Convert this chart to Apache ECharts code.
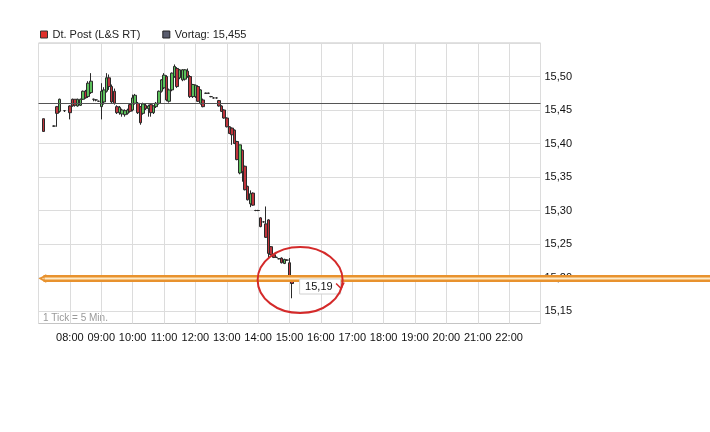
<!DOCTYPE html>
<html><head><meta charset="utf-8">
<script src="https://cdn.jsdelivr.net/npm/echarts@6/dist/echarts.min.js"></script>
<style>html,body{margin:0;padding:0;background:#fff}#c{width:710px;height:432px}</style>
</head><body><div id="c"></div>
<script>
// ---- data (5-minute candles) ----
const times = ['07:10','07:30','07:35','07:40','07:50','08:00','08:05','08:10','08:15','08:20','08:25','08:30','08:35','08:40','08:45','08:50','08:55',
'09:00','09:05','09:10','09:15','09:20','09:25','09:30','09:35','09:40','09:45','09:50','09:55',
'10:00','10:05','10:10','10:15','10:20','10:25','10:30','10:35','10:40','10:45','10:50','10:55',
'11:00','11:05','11:10','11:15','11:20','11:25','11:30','11:35','11:40','11:45','11:50','11:55',
'12:00','12:05','12:10','12:15','12:20','12:25','12:30','12:35','12:40','12:45','12:50','12:55',
'13:00','13:05','13:10','13:15','13:20','13:25','13:30','13:35','13:40','13:45','13:50','13:55',
'14:00','14:05','14:10','14:15','14:20','14:25','14:30','14:35','14:40','14:45','14:50','14:55','15:00','15:05'];
const opens = [15.437,15.426,15.455,15.448,15.449,15.456,15.466,15.466,15.456,15.457,15.466,15.478,15.470,15.476,15.466,15.465,15.463,
15.455,15.462,15.478,15.498,15.485,15.478,15.455,15.446,15.444,15.443,15.445,15.458,
15.450,15.460,15.460,15.455,15.445,15.457,15.452,15.458,15.446,15.455,15.460,15.478,
15.483,15.500,15.463,15.480,15.500,15.512,15.498,15.495,15.496,15.508,15.500,15.470,
15.470,15.485,15.460,15.465,15.475,15.475,15.470,15.468,15.468,15.464,15.456,15.450,
15.438,15.425,15.423,15.420,15.403,15.356,15.390,15.366,15.336,15.310,15.326,15.300,
15.300,15.289,15.283,15.280,15.286,15.246,15.234,15.230,15.228,15.229,15.221,15.226,15.222,15.196];
const highs = [15.437,15.427,15.456,15.467,15.450,15.457,15.467,15.466,15.467,15.467,15.479,15.480,15.493,15.505,15.467,15.466,15.464,
15.490,15.484,15.505,15.503,15.488,15.482,15.457,15.456,15.452,15.451,15.452,15.460,
15.473,15.474,15.462,15.456,15.461,15.460,15.458,15.460,15.457,15.462,15.479,15.496,
15.505,15.502,15.482,15.506,15.518,15.514,15.511,15.511,15.511,15.512,15.502,15.489,
15.488,15.487,15.481,15.467,15.476,15.476,15.471,15.469,15.469,15.465,15.457,15.451,
15.439,15.426,15.424,15.421,15.404,15.398,15.391,15.367,15.337,15.330,15.327,15.301,
15.301,15.290,15.284,15.306,15.287,15.247,15.235,15.231,15.229,15.230,15.228,15.227,15.229,15.199];
const lows = [15.418,15.425,15.425,15.446,15.447,15.436,15.455,15.455,15.455,15.456,15.465,15.467,15.468,15.474,15.463,15.463,15.462,
15.436,15.458,15.476,15.480,15.460,15.458,15.444,15.443,15.440,15.440,15.443,15.446,
15.448,15.458,15.444,15.428,15.443,15.450,15.440,15.440,15.444,15.453,15.458,15.476,
15.481,15.463,15.461,15.478,15.498,15.483,15.496,15.493,15.494,15.498,15.468,15.468,
15.468,15.462,15.458,15.454,15.474,15.474,15.469,15.467,15.467,15.455,15.447,15.437,
15.424,15.414,15.398,15.399,15.375,15.354,15.343,15.330,15.315,15.305,15.307,15.299,
15.299,15.275,15.282,15.259,15.229,15.233,15.229,15.229,15.227,15.221,15.220,15.225,15.199,15.169];
const closes = [15.418,15.426,15.445,15.466,15.449,15.446,15.456,15.457,15.466,15.466,15.478,15.468,15.490,15.493,15.466,15.465,15.463,
15.478,15.480,15.498,15.485,15.462,15.460,15.446,15.454,15.450,15.449,15.450,15.448,
15.468,15.472,15.446,15.431,15.459,15.452,15.456,15.446,15.456,15.460,15.478,15.495,
15.502,15.465,15.480,15.505,15.515,15.485,15.510,15.510,15.510,15.500,15.470,15.488,
15.487,15.463,15.480,15.455,15.475,15.475,15.470,15.468,15.468,15.456,15.448,15.438,
15.425,15.415,15.413,15.400,15.376,15.398,15.358,15.331,15.316,15.325,15.308,15.300,
15.300,15.276,15.283,15.260,15.236,15.234,15.230,15.230,15.228,15.222,15.227,15.226,15.201,15.191];
const vortag = 15.455;
const markerLevel = 15.20;
const hourTicks = ['07:00','08:00','09:00','10:00','11:00','12:00','13:00','14:00','15:00','16:00','17:00','18:00','19:00','20:00','21:00','22:00','23:00'];
const priceTicks = ['15,15','15,20','15,25','15,30','15,35','15,40','15,45','15,50','15,55'];
const seriesName = 'Dt. Post (L&S RT)';
const vortagName = 'Vortag: 15,455';
const tickNote = '1 Tick = 5 Min.';

const toH = s => { const [h, m] = s.split(':').map(Number); return h + m / 60; };
const candles = times.map((t, i) => [toH(t), opens[i], closes[i], lows[i], highs[i]]);
const xMin = toH(hourTicks[0]), xMax = toH(hourTicks[hourTicks.length - 1]);
const last = candles[candles.length - 1];
const FONT = '"Liberation Sans", Arial, sans-serif';

const chart = echarts.init(document.getElementById('c'), null, {renderer: 'canvas'});
chart.setOption({
  animation: false,
  backgroundColor: '#fff',
  textStyle: {fontFamily: FONT},
  legend: {
    left: 35, top: 24, itemWidth: 7, itemHeight: 7, itemGap: 22,
    textStyle: {fontSize: 11, color: '#222', fontFamily: FONT},
    data: [
      {name: seriesName, icon: 'rect', itemStyle: {color: '#e0302c', borderColor: '#333', borderWidth: 1}},
      {name: vortagName, icon: 'rect', itemStyle: {color: '#5a5d6e', borderColor: '#222', borderWidth: 1}}
    ],
    selectedMode: false
  },
  grid: [
    {left: 38.5, right: 169.5, top: 43, bottom: 108.5, show: true, borderColor: '#c4c4c4', borderWidth: 1, outerBoundsMode: 'none'},
    {left: 38.5, right: 169.5, top: 43, bottom: 121, outerBoundsMode: 'none'}
  ],
  xAxis: [
    {gridIndex: 0, type: 'value', min: xMin, max: xMax, interval: 1,
     axisLine: {show: false}, axisTick: {show: false},
     splitLine: {show: true, lineStyle: {color: '#dcdcdc', width: 1}},
     axisLabel: {margin: 9, fontSize: 11, color: '#111', fontFamily: FONT, showMinLabel: false, showMaxLabel: false,
       formatter: v => hourTicks[Math.round(v - xMin)] || ''}},
    {gridIndex: 1, type: 'value', min: xMin, max: xMax, show: false}
  ],
  yAxis: [
    {gridIndex: 0, type: 'value', min: 15.10, max: 15.55, show: false},
    {gridIndex: 1, type: 'value', position: 'right', min: 15.15, max: 15.55, interval: 0.05,
     axisLine: {show: false}, axisTick: {show: false},
     splitLine: {show: true, lineStyle: {color: '#dcdcdc', width: 1}},
     axisLabel: {margin: 4, fontSize: 11, color: '#111', fontFamily: FONT, showMaxLabel: false,
       formatter: v => priceTicks[Math.round((v - 15.15) / 0.05)] || ''}}
  ],
  graphic: [
    {type: 'text', left: 43, top: 313, style: {text: tickNote, fontSize: 10, fill: '#9a9a9a', fontFamily: FONT}}
  ],
  series: [
    {
      name: vortagName, type: 'line', xAxisIndex: 1, yAxisIndex: 1, data: [], symbol: 'none',
      itemStyle: {color: '#5a5d6e'},
      markLine: {silent: true, symbol: 'none', label: {show: false}, lineStyle: {color: '#555', width: 1, type: 'solid'},
        data: [{yAxis: vortag}]}, z: 3
    },
    {
      name: seriesName, type: 'candlestick', xAxisIndex: 1, yAxisIndex: 1, data: candles,
      barWidth: 3,
      itemStyle: {color: '#5cc05c', color0: '#c0343c', borderColor: '#2a2a2a', borderColor0: '#2a2a2a', borderWidth: 1},
      z: 4
    },
    {
      type: 'custom', xAxisIndex: 1, yAxisIndex: 1, data: [[xMin, markerLevel]], z: 6, silent: true,
      renderItem: (params, api) => {
        const p = api.coord([api.value(0), api.value(1)]);
        const y = Math.round(p[1]) + 0.5, x0 = p[0] + 2, W = api.getWidth();
        return {type: 'group', children: [
          {type: 'line', shape: {x1: x0 + 3, y1: y, x2: W, y2: y}, style: {stroke: '#e8922e', lineWidth: 7}},
          {type: 'line', shape: {x1: x0 + 4, y1: y, x2: W, y2: y}, style: {stroke: '#fdebc9', lineWidth: 2}},
          {type: 'polyline', shape: {points: [[x0 + 6, y - 3.5], [x0, y], [x0 + 6, y + 3.5]]}, style: {stroke: '#e8922e', lineWidth: 2, fill: null}}
        ]};
      }
    },
    {
      type: 'custom', xAxisIndex: 1, yAxisIndex: 1, data: [[last[0], last[2]]], z: 7, silent: true,
      renderItem: (params, api) => {
        const p = api.coord([api.value(0), api.value(1)]);
        const lbl = api.value(1).toFixed(2).replace('.', ',');
        return {type: 'group', children: [
          {type: 'rect', shape: {x: p[0] + 7.5, y: p[1] - 4.5, width: 41, height: 15}, style: {fill: '#fff', stroke: '#d0d0d0', lineWidth: 1}},
          {type: 'text', style: {x: p[0] + 13, y: p[1] + 3, text: lbl, fontSize: 11, fill: '#111', fontFamily: FONT, verticalAlign: 'middle'}},
          {type: 'ellipse', shape: {cx: p[0] + 8, cy: p[1] - 3.5, rx: 42.5, ry: 33}, style: {stroke: '#d42a2a', lineWidth: 2, fill: null}},
          {type: 'polyline', shape: {points: [[p[0] + 44, p[1] + 0], [p[0] + 49, p[1] + 5], [p[0] + 52, p[1] - 1]]}, style: {stroke: '#d42a2a', lineWidth: 1.5, fill: null}}
        ]};
      }
    }
  ]
});
</script>
</body></html>
